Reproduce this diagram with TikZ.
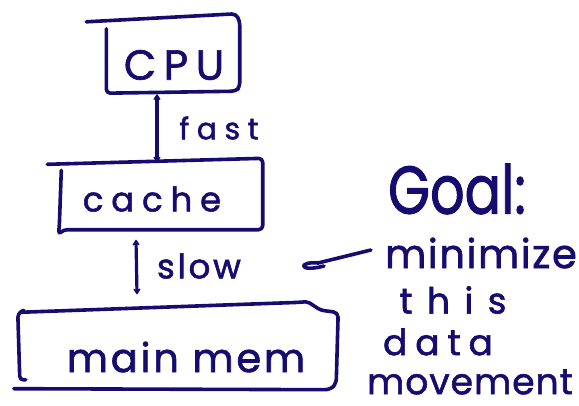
\documentclass[tikz,border=0pt]{standalone}
\usepackage{fontspec}
\usepackage{graphicx}
\setmainfont{Poppins}
\usetikzlibrary{arrows.meta}
\definecolor{ink}{RGB}{22,12,112}
\tikzset{
  pen/.style={draw=ink, line width=3.6pt, line cap=round, line join=round},
  boxshape/.style={rectangle, draw=none, inner sep=0pt},
  hand/.style={text=ink, inner sep=0pt, anchor=center},
  link/.style={pen, line width=3.2pt, {Stealth[length=7pt,width=9pt,round]}-{Stealth[length=7pt,width=9pt,round]}},
}
\newcommand{\hw}[2]{\fontsize{#1}{#1}\selectfont\addfontfeature{LetterSpace=#2,FakeBold=1.6}}
\begin{document}
\begin{tikzpicture}[x=1pt,y=-1pt]
\useasboundingbox (0,0) rectangle (579,405);

% box frames
\node[boxshape, minimum width=133pt, minimum height=74pt] (cpu)   at (173,54) {};
\node[boxshape, minimum width=203pt, minimum height=69pt] (cache) at (161,195) {};
\node[boxshape, minimum width=320pt, minimum height=85pt] (mem)   at (178,347) {};

\draw[pen, rounded corners=4pt]
  ([xshift=-20pt,yshift=-5pt]cpu.north west) -- ([xshift=-4pt,yshift=3pt]cpu.north east)
  -- ([yshift=-4pt]cpu.north east) -- ([yshift=4pt]cpu.south east)
  -- ([xshift=-4pt]cpu.south east) -- ([yshift=-2pt]cpu.south west)
  -- ([yshift=-12pt]cpu.north west);
\draw[pen, rounded corners=4pt]
  ([xshift=-12pt,yshift=-4pt]cache.north west) -- ([yshift=2pt]cache.north east)
  -- (cache.south east) -- ([xshift=4pt]cache.south west)
  -- ([xshift=-1pt,yshift=-5pt]cache.south west) -- ([yshift=3pt]cache.south west)
  -- ([xshift=2pt,yshift=-10pt]cache.north west);
\draw[pen, rounded corners=5pt]
  ([xshift=2pt,yshift=-8pt]mem.north west) -- ([xshift=-38pt,yshift=2pt]mem.north east)
  .. controls ([xshift=-28pt,yshift=3pt]mem.north east) and ([xshift=-22pt,yshift=-5pt]mem.north east)
  .. ([xshift=-10pt,yshift=-7pt]mem.north east)
  -- ([yshift=-8pt]mem.north east) -- ([xshift=-2pt,yshift=6pt]mem.south east)
  -- ([xshift=-8pt]mem.south east) -- ([xshift=-4pt,yshift=1pt]mem.south west);
\draw[pen, rounded corners=4pt]
  ([xshift=6pt,yshift=-6pt]mem.north west) -- ([yshift=-9pt]mem.north west)
  -- ([xshift=2pt,yshift=9.5pt]mem.south west) -- ([xshift=8pt,yshift=10pt]mem.south west);

% box labels
\node[hand] (cputext)   at (174,65)  {\hw{42}{18}CPU};
\node[hand] (cachetext) at (152,199) {\hw{34}{23}cache};
\node[hand] (memtext)   at (186,357) {\hw{40}{7}main mem};

% transfers between levels
\draw[link] ([xshift=-16pt,yshift=-3pt]cpu.south) -- ([xshift=-4pt,yshift=-2pt]cache.north);
\draw[link] ([xshift=-25pt,yshift=-10pt]cache.south) -- ([xshift=-41pt,yshift=10pt]mem.north);

\node[hand] (fast) at (219,128) {\hw{30}{25}fast};
\node[hand] (slow) at (199,266) {\hw{34}{8}slow};

% goal note
\node[hand] (goal)     at (457,189) {\scalebox{1}[1.25]{\hw{54}{0}Goal:}};
\node[hand] (minimize) at (481,253) {\hw{40}{4}minimize};
\node[hand] (this)     at (453,300) {\hw{36}{40}this};
\node[hand] (data)     at (438,342) {\hw{36}{22}data};
\node[hand] (movement) at (470,382) {\hw{36}{3}movement};

\coordinate (loopend) at (324,266);
\draw[pen] ([xshift=-14pt,yshift=3pt]minimize.west) -- (318,263)
  .. controls (298,261) and (298,273) .. (loopend);
\end{tikzpicture}
\end{document}
